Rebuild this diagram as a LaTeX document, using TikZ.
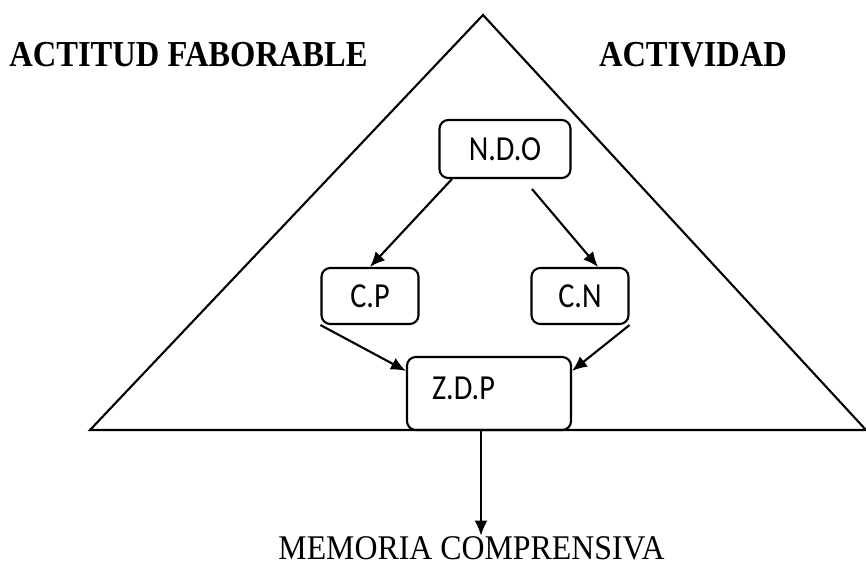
\documentclass[tikz,border=0pt]{standalone}
\usepackage{fontspec}
\usetikzlibrary{arrows.meta}
\newfontfamily\boxfont[FakeStretch=0.86]{Carlito}
\newfontfamily\titlefont[FakeStretch=0.89]{Liberation Serif}
\newfontfamily\memfont[FakeStretch=0.92]{Liberation Serif}

\begin{document}
\begin{tikzpicture}[
  box/.style={draw, rounded corners=5pt, line width=1.2pt, inner sep=0pt,
    font=\boxfont\fontsize{20}{22}\selectfont},
  arr/.style={-{Latex[length=3mm,width=2.6mm]}, line width=1.2pt},
  title/.style={anchor=base, inner sep=0pt,
    font=\titlefont\bfseries\fontsize{20.8}{24}\selectfont}
]
\useasboundingbox (0,0) rectangle (17.32,11.34);

% the big triangle
\coordinate (tl) at (1.80,2.74);
\coordinate (tt) at (9.66,11.04);
\coordinate (tr) at (17.32,2.74);
\draw[line width=1.2pt] (tl) -- (tt) -- (tr) -- cycle;

\node [title] (actitud) at (3.77,10.00) {ACTITUD FABORABLE};
\node [title] (actividad) at (13.86,10.00) {ACTIVIDAD};

\node [box, minimum width=2.62cm, minimum height=1.16cm] (ndo) at (10.10,8.36) {N.D.O};
\node [box, minimum width=1.94cm, minimum height=1.12cm] (cp) at (7.40,5.42) {C.P};
\node [box, minimum width=1.94cm, minimum height=1.12cm] (cn) at (11.60,5.42) {C.N};
\node [box, minimum width=3.28cm, minimum height=1.46cm, text width=2.28cm,
  inner xsep=0.5cm, align=left, text height=0.44cm, text depth=0.22cm] (zdp) at (9.78,3.47) {Z.D.P};

\node [anchor=base, inner sep=0pt, font=\memfont\fontsize{19.7}{22}\selectfont] (mem) at (9.43,0.16) {MEMORIA COMPRENSIVA};

\draw[arr] ([xshift=2.7mm]ndo.south west) -- (cp.north);
\draw[arr] ([shift={(0.54,-0.2)}]ndo.south) -- ([xshift=3.6mm]cn.north);
\draw[arr] (cp.south west) -- ([yshift=-3mm]zdp.north west);
\draw[arr] (cn.south east) -- ([yshift=-3mm]zdp.north east);

%\draw (zdp.south) -- (mem.north);
\coordinate (zb) at ([xshift=-1.6mm]zdp.south);
\draw[arr] (zb) -- (zb |- mem.north);

\end{tikzpicture}
\end{document}
